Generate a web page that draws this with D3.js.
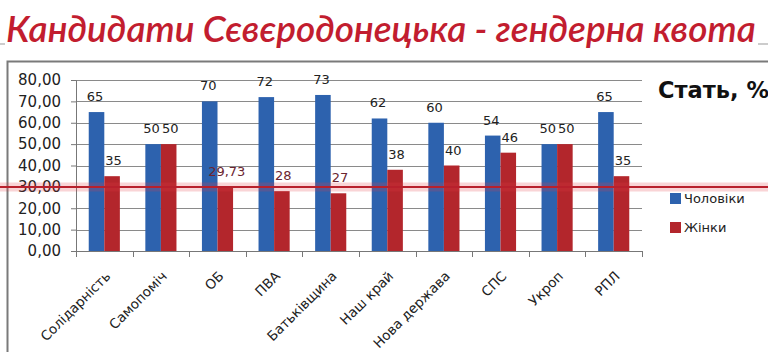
<!DOCTYPE html>
<html><head><meta charset="utf-8">
<script src="https://cdn.jsdelivr.net/npm/d3@7/dist/d3.min.js"></script>
<style>html,body{margin:0;padding:0;background:#fff;overflow:hidden}svg{display:block}</style>
</head><body>
<svg id="c" width="768" height="352"></svg>
<script>
const title = "Кандидати Сєвєродонецька - гендерна квота";
const categories = ["Солідарність","Самопоміч","ОБ","ПВА","Батьківщина","Наш край","Нова держава","СПС","Укроп","РПЛ"];
const seriesNames = ["Чоловіки","Жінки"];
const men   = [65,50,70,72,73,62,60,54,50,65];
const women = [35,50,29.73,28,27,38,40,46,50,35];
const menLabels   = ["65","50","70","72","73","62","60","54","50","65"];
const womenLabels = ["35","50","29,73","28","27","38","40","46","50","35"];
const yTicks = [0,10,20,30,40,50,60,70,80];
const quotaLine = 30;
const legendTitle = "Стать, %";

const colors = ["#2d62ae","#b3262c"];
const svg = d3.select("#c");
const font = "'DejaVu Sans', Verdana, sans-serif";

// title
const t = svg.append("text").attr("x",6).attr("y",42)
  .attr("font-family","Lato, 'Open Sans', sans-serif").attr("font-style","italic")
  .attr("font-weight",600).attr("font-size",32).attr("fill","#c21d2f").text(title);
const w = t.node().getComputedTextLength();
t.attr("font-size", 32*750/w);
svg.append("line").attr("x1",0).attr("x2",5).attr("y1",44).attr("y2",44).attr("stroke","#999");
svg.append("line").attr("x1",758).attr("x2",768).attr("y1",44).attr("y2",44).attr("stroke","#999");

// frame
svg.append("path").attr("d","M7.5,352 V61.5 H768").attr("fill","none").attr("stroke","#7a7a7a").attr("stroke-width",2);

const x0 = d3.scaleBand().domain(categories).range([76,642]).paddingInner(0.45).paddingOuter(0.225);
const x1 = d3.scaleBand().domain(seriesNames).range([0,x0.bandwidth()]);
const y = d3.scaleLinear().domain([0,80]).range([251,80]);

// gridlines
svg.append("g").selectAll("line").data(yTicks.filter(d=>d>0)).join("line")
  .attr("x1",76).attr("x2",642).attr("y1",d=>Math.round(y(d))+0.5).attr("y2",d=>Math.round(y(d))+0.5)
  .attr("stroke","#8a8a8a").attr("stroke-width",1);

// y axis
const ya = svg.append("g").attr("transform","translate(76,0)")
  .call(d3.axisLeft(y).tickValues(yTicks).tickSize(5).tickPadding(10).tickFormat(d=>d3.format(".2f")(d).replace(".",",")));
ya.selectAll("text").attr("font-family",font).attr("font-size",15).attr("fill","#222");
ya.selectAll("line,path").attr("stroke","#777");

// bars
const groups = svg.append("g").selectAll("g").data(categories).join("g")
  .attr("transform",d=>`translate(${x0(d)},0)`);
const vals = (i)=>[{s:0,v:men[i],l:menLabels[i]},{s:1,v:women[i],l:womenLabels[i]}];
groups.selectAll("rect").data((d,i)=>vals(i)).join("rect")
  .attr("x",d=>x1(seriesNames[d.s])).attr("width",x1.bandwidth())
  .attr("y",d=>y(d.v)).attr("height",d=>y(0)-y(d.v)).attr("fill",d=>colors[d.s]);

// x axis
const xa = svg.append("g").attr("transform","translate(0,251)");
xa.append("line").attr("x1",76).attr("x2",642).attr("y1",0.5).attr("y2",0.5).attr("stroke","#777");
const bounds = d3.range(categories.length+1).map(i=>76+i*x0.step());
xa.selectAll("line.t").data(bounds).join("line").attr("class","t")
  .attr("x1",d=>Math.round(d)+0.5).attr("x2",d=>Math.round(d)+0.5).attr("y1",0).attr("y2",6).attr("stroke","#777");
xa.selectAll("text").data(categories).join("text")
  .attr("transform",d=>`translate(${x0(d)+x0.bandwidth()/2+7},26) rotate(-45)`)
  .attr("text-anchor","end").attr("font-family",font).attr("font-size",13.5).attr("fill","#222").text(d=>d);

// quota line
const ql = Math.round(y(quotaLine));
svg.append("line").attr("x1",0).attr("x2",768).attr("y1",ql).attr("y2",ql).attr("stroke","#e23a44").attr("stroke-opacity",0.22).attr("stroke-width",9);
svg.append("line").attr("x1",0).attr("x2",768).attr("y1",ql).attr("y2",ql).attr("stroke","#b8202c").attr("stroke-width",2);

// data labels
groups.selectAll("text").data((d,i)=>vals(i)).join("text")
  .attr("x",d=>x1(seriesNames[d.s])+x1.bandwidth()/2 + (d.s===0?-1.5:1.5)).attr("y",d=>y(d.v)-11)
  .attr("text-anchor","middle").attr("font-family",font).attr("font-size",13)
  .attr("fill",d=>Math.abs(y(d.v)-11-ql)<14?"#6b2530":"#222").text(d=>d.l);

// legend
svg.append("text").attr("x",658).attr("y",98).attr("font-family",font).attr("font-weight","bold")
  .attr("font-size",22.5).attr("fill","#111").text(legendTitle);
const lg = svg.append("g").selectAll("g").data(seriesNames).join("g")
  .attr("transform",(d,i)=>`translate(670,${193+i*29})`);
lg.append("rect").attr("width",11).attr("height",11).attr("fill",(d,i)=>colors[i]);
lg.append("text").attr("x",14).attr("y",10).attr("font-family",font).attr("font-size",13).attr("fill","#222").text(d=>d);
</script>
</body></html>
